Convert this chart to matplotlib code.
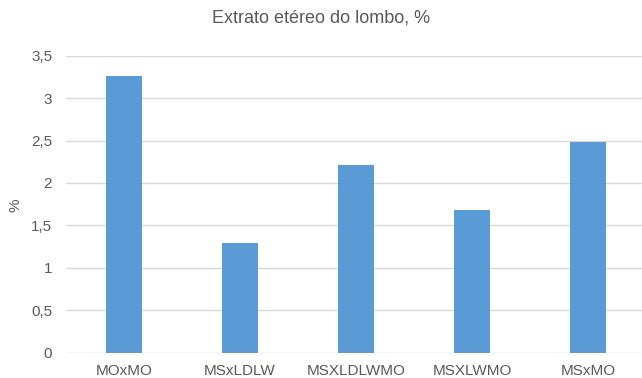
import matplotlib
matplotlib.use("Agg")
import matplotlib.pyplot as plt
from matplotlib.ticker import FuncFormatter, MultipleLocator

categories = ["MOxMO", "MSxLDLW", "MSXLDLWMO", "MSXLWMO", "MSxMO"]
values = [3.26, 1.29, 2.21, 1.68, 2.48]

plt.rcParams['font.family'] = ['Liberation Sans', 'DejaVu Sans']
text_color = "#595959"

fig = plt.figure(figsize=(6.42, 3.78), dpi=100)
ax = fig.add_axes([66 / 642, 25.3 / 378, 580 / 642, 297 / 378])

x = range(len(categories))
ax.bar(x, values, width=0.31, color="#5b9bd5", zorder=3)

ax.set_xlim(-0.5, len(categories) - 0.5)
ax.set_ylim(0, 3.5)
ax.yaxis.set_major_locator(MultipleLocator(0.5))
ax.yaxis.set_major_formatter(FuncFormatter(lambda v, p: f"{v:g}".replace(".", ",")))
ax.set_xticks(list(x))
ax.set_xticklabels(categories)

ax.grid(axis="y", color="#d9d9d9", linewidth=1.0, zorder=0)
for s in ax.spines.values():
    s.set_visible(False)
ax.tick_params(axis="both", length=0, labelsize=11, labelcolor=text_color)
ax.tick_params(axis="y", pad=10)
ax.tick_params(axis="x", pad=8)

fig.text(15 / 642, 1 - 205 / 378, "%", rotation=90, ha="center", va="center",
         fontsize=11, color=text_color)
fig.text(0.5, 1 - 18 / 378, "Extrato etéreo do lombo, %", ha="center", va="center",
         fontsize=13, color=text_color)

fig.savefig("out.png", dpi=100)
